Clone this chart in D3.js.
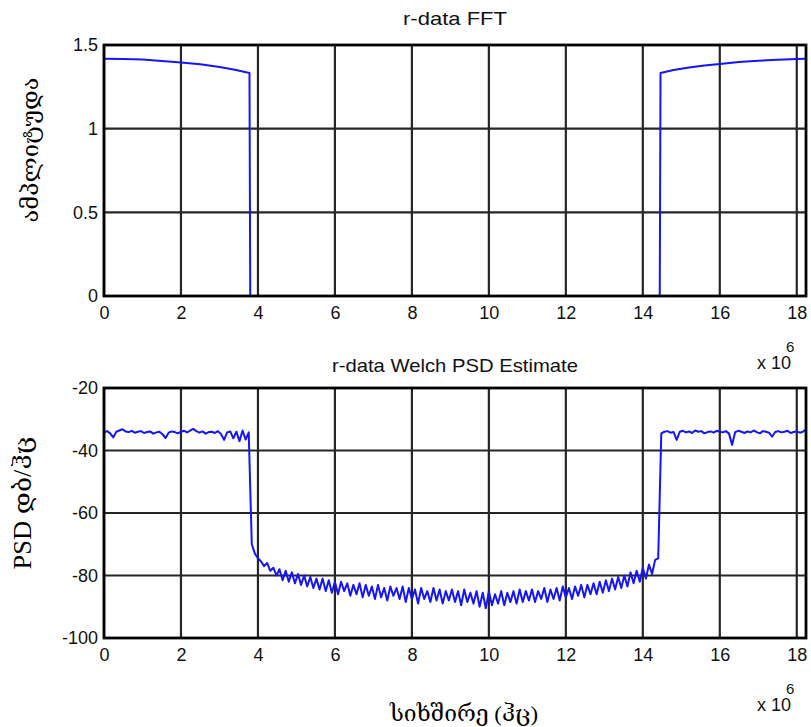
<!DOCTYPE html>
<html><head><meta charset="utf-8">
<script src="https://cdn.jsdelivr.net/npm/d3@7"></script>
<style>
html,body{margin:0;padding:0;background:#fff;}
svg{display:block;}
</style></head>
<body><svg id="c" width="811" height="727"></svg>
<script>
// ---------- DATA ----------
const titleTop = "r-data FFT";
const titleBottom = "r-data Welch PSD Estimate";
const yLabelTop = "ამპლიტუდა";
const yLabelBottom = "PSD  დბ/ჰც";
const xLabel = "სიხშირე (ჰც)";
const xTicks = [0, 2, 4, 6, 8, 10, 12, 14, 16, 18];
const yTicksTop = [0, 0.5, 1, 1.5];
const yTicksBottom = [-100, -80, -60, -40, -20];
const xMax = 18.24; // x 10^6 Hz

// FFT magnitude (frequency in MHz, magnitude)
const fftFreq = [0, 0.5, 1, 1.5, 2, 2.5, 3, 3.4, 3.78, 3.80, 14.44, 14.46, 14.8, 15.2, 15.6, 16, 16.5, 17, 17.5, 18, 18.24];
const fftMag  = [1.418, 1.416, 1.413, 1.405, 1.396, 1.385, 1.368, 1.352, 1.333, 0, 0, 1.333, 1.350, 1.365, 1.377, 1.387, 1.398, 1.406, 1.412, 1.416, 1.418];

// Welch PSD (dB/Hz) on a uniform bin grid of 0.08 x 10^6 Hz
const psdStep = 0.08;
const psdLeft = [-34.2,-33.8,-34.5,-35.8,-34.0,-33.6,-33.2,-33.9,-34.1,-33.7,
 -34.3,-34.0,-33.8,-34.4,-34.1,-33.9,-34.6,-34.2,-34.0,-34.8,
 -36.0,-34.3,-33.9,-34.1,-34.5,-34.0,-33.7,-34.2,-33.6,-33.1,
 -33.8,-34.3,-33.9,-34.6,-34.1,-34.0,-34.4,-33.8,-34.7,-36.6,
 -34.2,-33.9,-36.1,-34.0,-37.0,-33.6,-36.5,-34.2];
const psdMid = [-70,-73,-74.5,-75.5,-77,-76,-78.5,-77.5,-80,-78,
 -81.5,-78.5,-82,-79,-82.5,-79.5,-83,-80,-83.5,-80.5,
 -84,-81,-84.5,-81,-85,-81.5,-85.5,-82,-86,-82,
 -85,-82.5,-86.5,-83,-86,-82.5,-87,-83,-86.5,-83.5,
 -87.5,-83,-87,-84,-88,-83.5,-86.5,-84,-87.5,-83.5,
 -88.5,-84,-87.5,-84.5,-89,-84,-87.5,-85,-88.5,-84,
 -88,-84.5,-89,-85,-88,-84.5,-88.5,-85,-89.5,-84.5,
 -88.5,-85.5,-89,-85,-90,-85.5,-90.5,-85,-89.5,-86,
 -89,-85,-89.5,-85.5,-88.5,-85,-89,-84.5,-88.5,-85,
 -88,-84.5,-88.5,-85,-87.5,-84,-88.5,-84.5,-87.5,-84,
 -88,-83.5,-87,-84,-87.5,-83.5,-86.5,-83,-87,-83,
 -86,-82.5,-86,-82,-85.5,-81.5,-85,-81,-84.5,-80.5,
 -84,-80,-83.5,-79,-82.5,-78.5,-82,-77.5,-81,-76.5,
 -79.5,-75,-74.5];
const psdRight = [-34.5,-34.0,-33.8,-34.3,-34.1,-36.6,-34.0,-33.7,-34.2,-33.9,
 -34.4,-33.6,-34.0,-33.8,-34.5,-34.1,-33.9,-34.3,-33.7,-34.0,
 -34.2,-33.8,-34.6,-38.2,-34.1,-33.7,-34.0,-34.4,-33.9,-34.2,
 -33.6,-34.1,-34.5,-33.8,-34.0,-34.3,-35.6,-34.1,-33.8,-34.2,
 -34.0,-33.7,-34.4,-34.1,-33.9,-34.3,-34.0,-33.2];
const psdVals = psdLeft.concat(psdMid, psdRight);

// ---------- DRAW ----------
const svg = d3.select("#c");
const fontSans = '"Liberation Sans",Arial,sans-serif';
const fontSerif = '"Liberation Serif","DejaVu Serif",serif';

function panel(cfg){
  const x = d3.scaleLinear().domain([0, xMax]).range([cfg.left, cfg.right]);
  const y = d3.scaleLinear().domain(cfg.yDomain).range([cfg.bottom, cfg.top]);
  const g = svg.append("g");
  // grid
  g.append("g").selectAll("line").data(xTicks).join("line")
    .attr("x1", d=>x(d)).attr("x2", d=>x(d)).attr("y1", cfg.top).attr("y2", cfg.bottom)
    .attr("stroke", "#262626").attr("stroke-width", 2.2);
  g.append("g").selectAll("line").data(cfg.yTicks).join("line")
    .attr("x1", cfg.left).attr("x2", cfg.right).attr("y1", d=>y(d)).attr("y2", d=>y(d))
    .attr("stroke", "#262626").attr("stroke-width", 2.2);
  // data line
  const line = d3.line().x(d=>x(d[0])).y(d=>y(d[1]));
  g.append("path").datum(cfg.data).attr("d", line)
    .attr("fill", "none").attr("stroke", "#1414ff").attr("stroke-width", 2)
    .attr("stroke-linejoin", "round");
  // frame
  g.append("rect").attr("x", cfg.left).attr("y", cfg.top)
    .attr("width", cfg.right-cfg.left).attr("height", cfg.bottom-cfg.top)
    .attr("fill", "none").attr("stroke", "#000").attr("stroke-width", 2.8);
  // axes (labels only)
  const xa = g.append("g").attr("transform", `translate(0,${cfg.bottom})`)
    .call(d3.axisBottom(x).tickValues(xTicks).tickSize(0).tickPadding(10).tickFormat(d3.format("d")));
  xa.select(".domain").remove();
  xa.selectAll("text").attr("font-size", 18).attr("fill", "#111").attr("font-family", fontSans);
  const ya = g.append("g").attr("transform", `translate(${cfg.left},0)`)
    .call(d3.axisLeft(y).tickValues(cfg.yTicks).tickSize(0).tickPadding(6).tickFormat(cfg.fmt));
  ya.select(".domain").remove();
  ya.selectAll("text").attr("font-size", 18).attr("fill", "#111").attr("font-family", fontSans);
  // title
  g.append("text").attr("x", (cfg.left+cfg.right)/2).attr("y", cfg.titleY)
    .attr("text-anchor", "middle").attr("font-family", fontSans).attr("font-size", 19)
    .attr("fill", "#111").attr("textLength", cfg.titleLen).attr("lengthAdjust", "spacingAndGlyphs")
    .text(cfg.title);
  // x 10^6
  const ex = g.append("text").attr("x", 757).attr("y", cfg.bottom+73)
    .attr("font-family", fontSans).attr("font-size", 18).attr("fill", "#111");
  ex.append("tspan").text("x 10");
  ex.append("tspan").attr("dx", -5).attr("dy", -17).attr("font-size", 15).text("6");
  // y label
  g.append("text").attr("transform", `translate(${cfg.ylx},${cfg.yly}) rotate(-90)`)
    .attr("text-anchor", "middle").attr("dominant-baseline", "middle")
    .attr("font-family", fontSerif).attr("font-size", cfg.ylSize).attr("fill", "#000")
    .attr("textLength", cfg.ylLen).attr("lengthAdjust", "spacingAndGlyphs")
    .text(cfg.ylabel);
  return {x, y};
}

panel({left:104, right:806, top:45, bottom:296, yDomain:[0,1.5], yTicks:yTicksTop,
  fmt: d=>String(d), data: fftFreq.map((f,i)=>[f, fftMag[i]]), title: titleTop,
  titleY: 25, titleLen: 104,
  ylabel: yLabelTop, ylx: 33, yly: 150, ylSize: 23, ylLen: 145});
panel({left:104, right:806, top:388, bottom:638, yDomain:[-100,-20], yTicks:yTicksBottom,
  fmt: d=>String(d), data: psdVals.map((v,i)=>[i*psdStep, v]), title: titleBottom,
  titleY: 372, titleLen: 246,
  ylabel: yLabelBottom, ylx: 25, yly: 503, ylSize: 25, ylLen: 133});

svg.append("text").attr("x", 464).attr("y", 716)
  .attr("text-anchor", "middle").attr("dominant-baseline", "middle")
  .attr("font-family", fontSerif).attr("font-size", 22).attr("fill", "#000")
  .attr("textLength", 148).attr("lengthAdjust", "spacingAndGlyphs")
  .text(xLabel);
</script></body></html>
